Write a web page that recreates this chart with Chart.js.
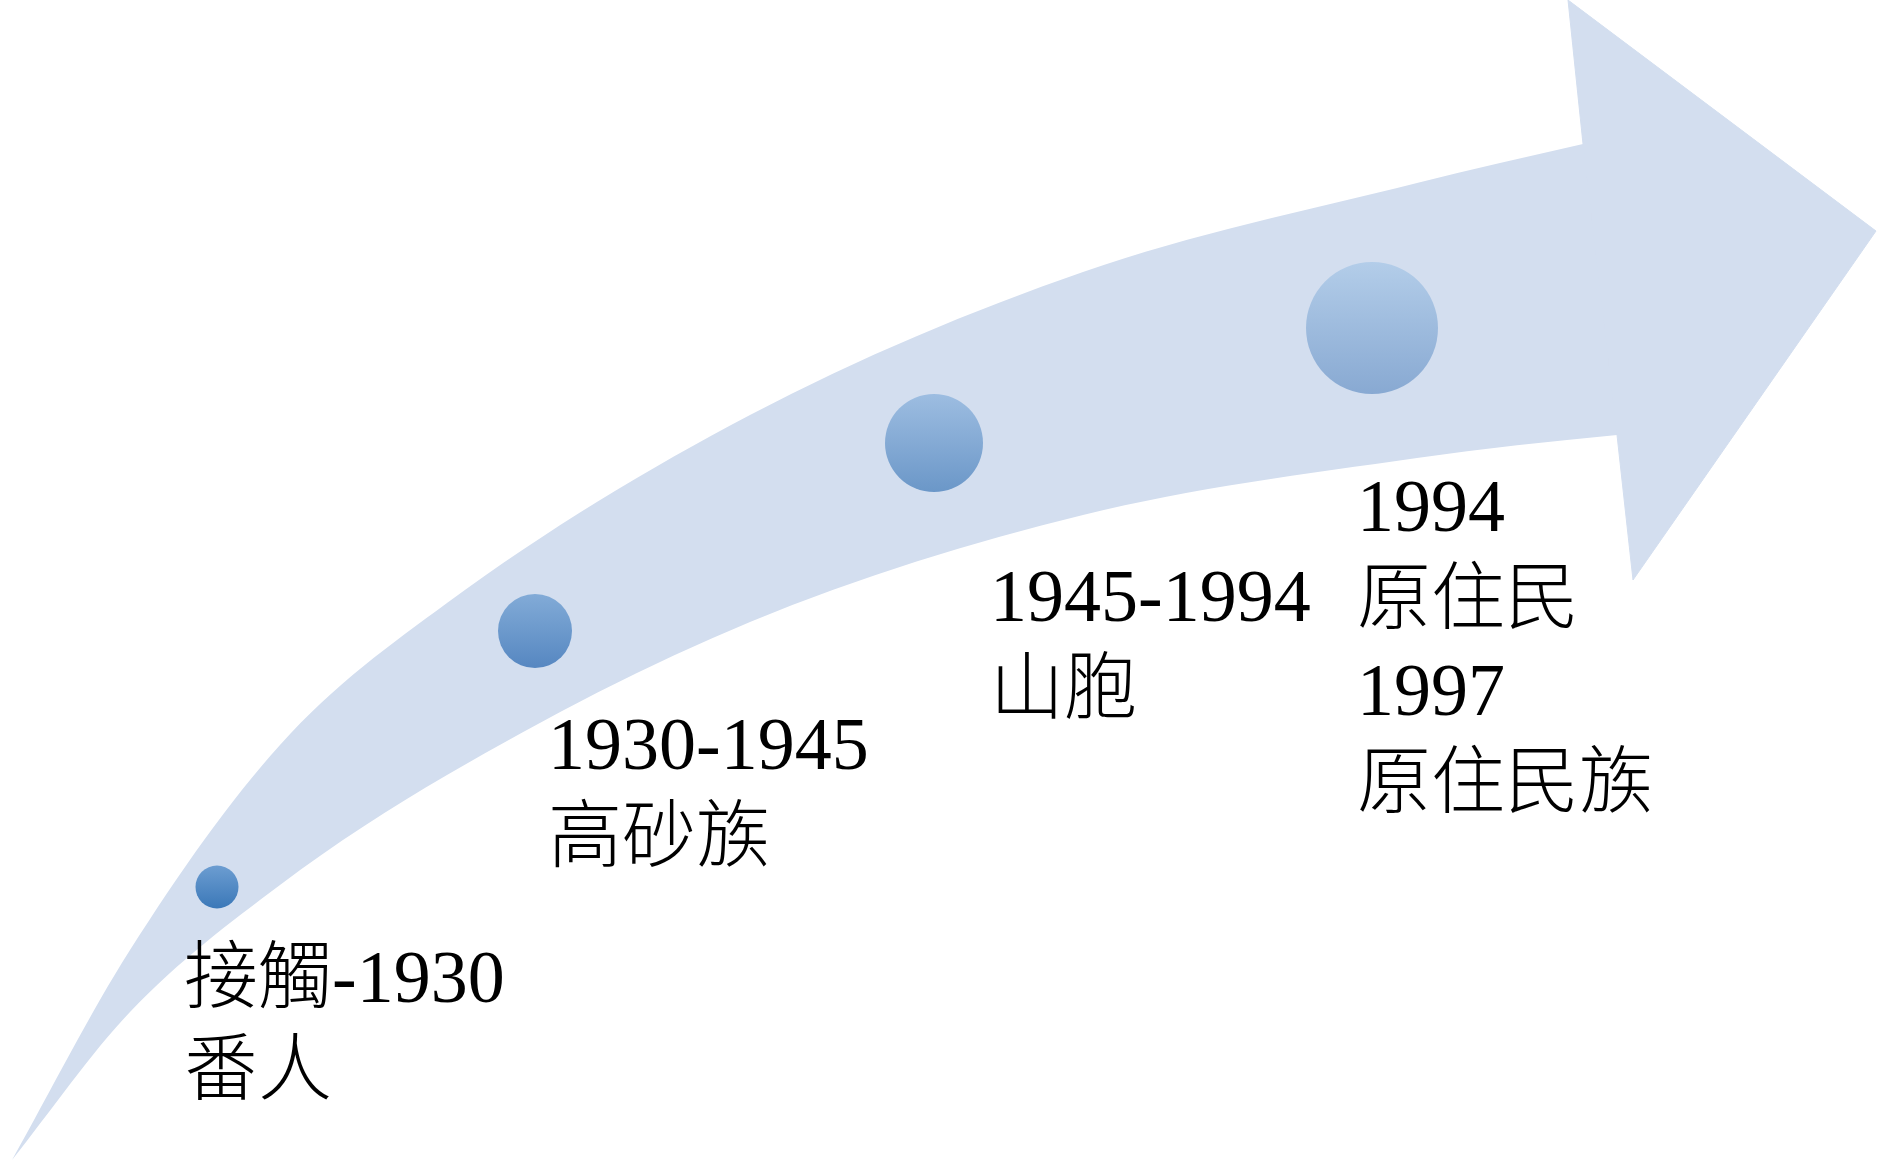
<!DOCTYPE html>
<html>
<head>
<meta charset="utf-8">
<script src="https://cdn.jsdelivr.net/npm/chart.js@4.4.1/dist/chart.umd.min.js"></script>
<style>
  html, body { margin: 0; padding: 0; background: #fff; }
  #wrap { width: 1878px; height: 1162px; position: relative; }
</style>
</head>
<body>
<div id="wrap"><canvas id="timeline"></canvas></div>
<script>
(function(){
  'use strict';

  // stages along the arrow
  const stageLines = [
    ['接觸-1930', '番人'],
    ['1930-1945', '高砂族'],
    ['1945-1994', '山胞'],
    ['1994', '原住民', '1997', '原住民族']
  ];
  // dot centres and sizes (same units as the axes)
  const dotX = [217, 535, 934, 1372];
  const dotY = [887, 631, 443, 328];
  const dotR = [21.5, 37, 49, 66];
  const dotTop = ['#6c9dd1', '#82abd7', '#9dbde1', '#b3cde9'];
  const dotBottom = ['#3b78b8', '#5687c1', '#6b97c8', '#88a9d2'];
  // label anchors: left edge and first baseline
  const labelX = [184, 548, 990, 1357];
  const labelY = [1002, 769, 621, 531];
  const lineGap = 92;

  // arrow body edges and head outline
  const upperX = [12, 130, 280, 447, 750, 1083, 1417, 1583, 1660];
  const upperY = [1160, 950, 745, 603, 415, 272, 183, 144, 127];
  const lowerX = [12, 130, 280, 447, 750, 1083, 1417, 1617, 1670];
  const lowerY = [1160, 1012, 885, 775, 622, 515, 458, 435, 431];
  const headX = [1568, 1876, 1633, 1617, 1583, 1568];
  const headY = [0, 231, 580, 435, 144, 0];

  const bandColor = '#d3deef';
  const pts = (xs, ys) => xs.map((x, i) => ({x: x, y: ys[i]}));

  const labelPlugin = {
    id: 'stageLabels',
    afterDatasetsDraw(chart) {
      const c = chart.ctx;
      const sx = chart.scales.x, sy = chart.scales.y;
      c.save();
      c.fillStyle = '#000';
      c.textBaseline = 'alphabetic';
      c.textAlign = 'left';
      c.font = '300 74px "Liberation Serif", "Noto Sans CJK TC", serif';
      stageLines.forEach((lines, i) => {
        lines.forEach((txt, k) => {
          c.fillText(txt, sx.getPixelForValue(labelX[i]), sy.getPixelForValue(labelY[i] + k * lineGap));
        });
      });
      c.restore();
    }
  };

  const ctx = document.getElementById('timeline');

  new Chart(ctx, {
    type: 'line',
    data: {
      datasets: [
        {
          label: 'upper',
          data: pts(upperX, upperY),
          borderColor: 'rgba(0,0,0,0)',
          borderWidth: 1,
          pointRadius: 0,
          cubicInterpolationMode: 'monotone',
          fill: false,
          order: 3
        },
        {
          label: 'lower',
          data: pts(lowerX, lowerY),
          borderColor: 'rgba(0,0,0,0)',
          borderWidth: 1,
          backgroundColor: bandColor,
          pointRadius: 0,
          cubicInterpolationMode: 'monotone',
          fill: 0,
          order: 3
        },
        {
          label: 'head',
          data: pts(headX, headY),
          borderColor: bandColor,
          borderWidth: 1,
          backgroundColor: bandColor,
          pointRadius: 0,
          tension: 0,
          fill: 'shape',
          order: 2
        },
        {
          type: 'scatter',
          label: 'stages',
          data: pts(dotX, dotY),
          pointBorderWidth: 0,
          pointRadius: (c) => {
            const s = c.chart.scales.x;
            return s.getPixelForValue(dotR[c.dataIndex]) - s.getPixelForValue(0);
          },
          backgroundColor: (c) => {
            const ch = c.chart;
            if (!ch.chartArea || c.dataIndex === undefined) return dotTop[0];
            const i = c.dataIndex;
            const sy = ch.scales.y;
            const y0 = sy.getPixelForValue(dotY[i] - dotR[i]);
            const y1 = sy.getPixelForValue(dotY[i] + dotR[i]);
            const g = ch.ctx.createLinearGradient(0, y0, 0, y1);
            g.addColorStop(0, dotTop[i]);
            g.addColorStop(1, dotBottom[i]);
            return g;
          },
          order: 1
        }
      ]
    },
    options: {
      responsive: true,
      maintainAspectRatio: false,
      animation: false,
      events: [],
      layout: { padding: 0 },
      plugins: {
        legend: { display: false },
        tooltip: { enabled: false }
      },
      scales: {
        x: { type: 'linear', min: 0, max: 1878, display: false },
        y: { type: 'linear', min: 0, max: 1162, reverse: true, display: false }
      }
    },
    plugins: [labelPlugin]
  });
})();
</script>
</body>
</html>
